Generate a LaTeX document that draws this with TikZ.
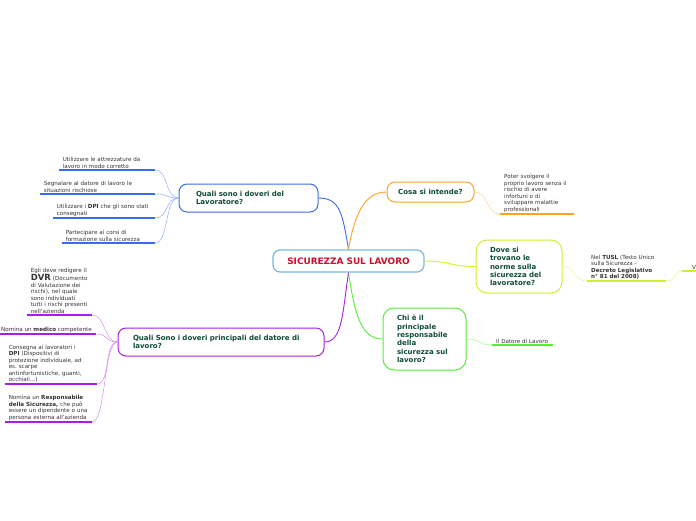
\documentclass[tikz,border=0pt]{standalone}
\usepackage{fontspec}
\setmainfont{DejaVu Sans}
\usetikzlibrary{positioning}
\definecolor{rootblue}{HTML}{7AB8E0}
\definecolor{rootred}{HTML}{C8102E}
\definecolor{topicgreen}{HTML}{0E4A3A}
\definecolor{leafgray}{HTML}{333333}
\definecolor{blueA}{HTML}{3A6CF0}
\definecolor{blueB}{HTML}{93ACFF}
\definecolor{orangeA}{HTML}{FFA21F}
\definecolor{orangeB}{HTML}{FFD38A}
\definecolor{limeA}{HTML}{D2EE2C}
\definecolor{limeB}{HTML}{E4F58A}
\definecolor{greenA}{HTML}{55EE33}
\definecolor{greenB}{HTML}{A6F59A}
\definecolor{purpleA}{HTML}{A61EE8}
\definecolor{purpleB}{HTML}{D08CF5}
\frenchspacing

\begin{document}
\begin{tikzpicture}[
    x=1pt, y=-1pt,
    root/.style={rectangle, draw=rootblue, fill=white, line width=1.2pt, rounded corners=7pt, minimum width=151pt, minimum height=22pt, text=rootred, font=\fontsize{8.9}{10}\selectfont\bfseries},
    topic/.style={rectangle, draw, fill=white, line width=1pt, rounded corners=8pt, align=left, text=topicgreen, font=\fontsize{7}{8.4}\selectfont\bfseries},
    leaf/.style={inner xsep=4pt, inner ysep=1.5pt, align=left, text=leafgray, font=\fontsize{5.6}{6.5}\selectfont},
    uline/.style={line width=1.4pt},
    link/.style={line width=0.9pt},
    twig/.style={line width=0.5pt}
]
\useasboundingbox (0,0) rectangle (696,520);

\node[root] (root) at (348.5,261) {SICUREZZA SUL LAVORO};

\node[topic, draw=blueA, text width=105pt, inner xsep=17pt, minimum height=28pt] (lavoratore) at (248.5,198) {Quali sono i doveri del\\Lavoratore?};
\node[topic, draw=orangeA, minimum width=87pt, minimum height=20pt, align=center] (intende) at (430.5,192) {Cosa si intende?};
\node[topic, draw=limeA, text width=58pt, inner xsep=14pt, minimum height=53pt, rounded corners=11pt] (norme) at (519,266.5) {Dove si\\trovano le\\norme sulla\\sicurezza del\\lavoratore?};
\node[topic, draw=greenA, text width=55pt, inner xsep=14pt, minimum height=62pt, rounded corners=11pt] (responsabile) at (424.5,339) {Chi è il\\principale\\responsabile\\della\\sicurezza sul\\lavoro?};
\node[topic, draw=purpleA, text width=176pt, inner xsep=15pt, minimum height=28pt] (datore) at (221,342) {Quali Sono i doveri principali del datore di\\lavoro?};

\draw[link, blueA] (root.north) .. controls +(-6,-35) and +(22,0) .. (lavoratore.east);
\draw[link, orangeA] (root.north) .. controls +(6,-35) and +(-22,0) .. (intende.west);
\draw[link, limeA] (root.east) .. controls +(25,0) and +(-25,0) .. (norme.west);
\draw[link, greenA] (root.south) .. controls +(6,40) and +(-22,0) .. (responsabile.west);
\draw[link, purpleA] (root.south) .. controls +(-6,40) and +(18,0) .. (datore.east);

% doveri del lavoratore
\node[leaf, anchor=south east, text width=88pt] (attrezzature) at (155,170) {Utilizzare le attrezzature da\\lavoro in modo corretto};
\node[leaf, anchor=south east, text width=107pt] (segnalare) at (155,194) {Segnalare al datore di lavoro le\\situazioni rischiose};
\node[leaf, anchor=south east, text width=94pt] (dpi) at (155,218) {Utilizzare i \textbf{DPI} che gli sono stati\\consegnati};
\node[leaf, anchor=south east, text width=85pt] (corsi) at (155,243) {Partecipare ai corsi di\\formazione sulla sicurezza};
\foreach \n in {attrezzature,segnalare,dpi,corsi} {
  \draw[uline, blueA] (\n.south west) -- (\n.south east);
  \draw[twig, blueB] (lavoratore.west) .. controls +(-14,0) and +(14,0) .. (\n.south east);
}

% cosa si intende
\node[leaf, anchor=south west, text width=66pt] (rischio) at (500,214) {Poter svolgere il\\proprio lavoro senza il\\rischio di avere\\infortuni o di\\sviluppare malattie\\professionali};
\draw[uline, orangeA] (rischio.south west) -- (rischio.south east);
\draw[twig, orangeB] (intende.east) .. controls +(14,0) and +(-14,0) .. (rischio.south west);

% dove si trovano le norme
\node[leaf, anchor=south west, text width=71pt] (tusl) at (587,281) {Nel \textbf{TUSL} (Testo Unico\\sulla Sicurezza -\\\textbf{Decreto Legislativo}\\\textbf{n° 81 del 2008)}};
\draw[uline, limeA] (tusl.south west) -- (tusl.south east);
\draw[twig, limeB] (norme.east) .. controls +(14,0) and +(-14,0) .. (tusl.south west);
\node[leaf, anchor=south west, inner xsep=10pt] (oltre) at (682,271) {V};
\draw[uline, limeA] (oltre.south west) -- (oltre.south east);
\draw[twig, limeB] (tusl.south east) .. controls +(10,0) and +(-8,0) .. (oltre.south west);

% chi e il responsabile
\node[leaf, anchor=south west, text width=53pt] (capo) at (492,345) {Il Datore di Lavoro};
\draw[uline, greenA] (capo.south west) -- (capo.south east);
\draw[twig, greenB] (responsabile.east) .. controls +(14,0) and +(-14,0) .. (capo.south west);

% doveri del datore
\node[leaf, anchor=south east, text width=57pt] (dvr) at (92,315) {Egli deve redigere il\\{\fontsize{8.5}{8.5}\selectfont\textbf{DVR}} (Documento\\di Valutazione dei\\rischi), nel quale\\sono individuati\\tutti i rischi presenti\\nell'azienda};
\node[leaf, anchor=south west] (medico) at (-3,334) {Nomina un \textbf{medico} competente};
\node[leaf, anchor=south east, text width=84pt] (consegna) at (97,384) {Consegna ai lavoratori i\\\textbf{DPI} (Dispositivi di\\protezione individuale, ad\\es. scarpe\\antinfortunistiche, guanti,\\occhiali...)};
\node[leaf, anchor=south east, text width=79pt] (rspp) at (92,422) {Nomina un \textbf{Responsabile}\\\textbf{della Sicurezza,} che può\\essere un dipendente o una\\persona esterna all'azienda};
\foreach \n in {dvr,medico,consegna,rspp} {
  \draw[uline, purpleA] (\n.south west) -- (\n.south east);
  \draw[twig, purpleB] (datore.west) .. controls +(-14,0) and +(14,0) .. (\n.south east);
}
\end{tikzpicture}
\end{document}
